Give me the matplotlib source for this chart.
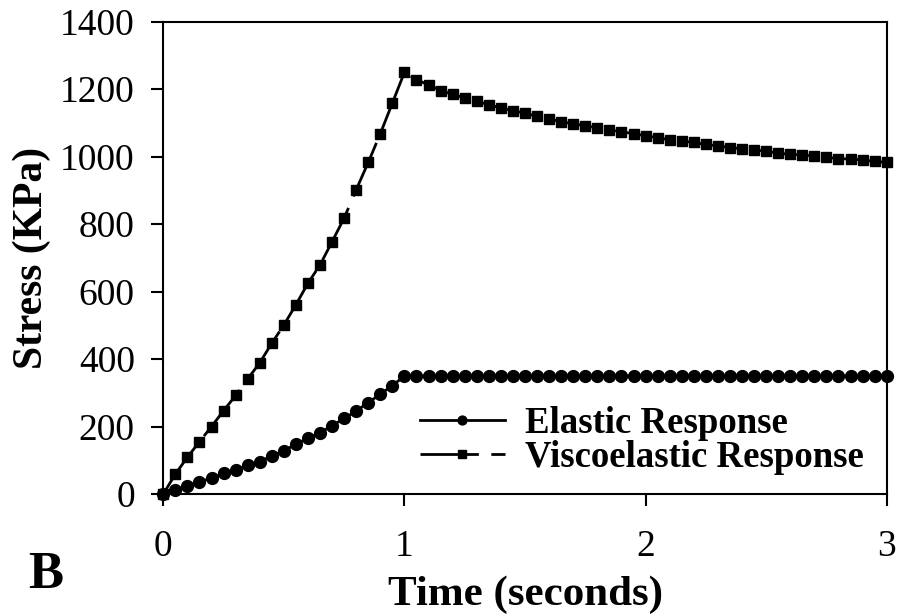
import numpy as np
import matplotlib
matplotlib.use('Agg')
import matplotlib.pyplot as plt

# time axis, sampled every 0.05 s
time = [round(0.05 * i, 2) for i in range(61)]

# elastic: rises to 350 at t=1 then stays flat
elastic = [0, 12, 24, 37, 46, 61, 71, 86, 96, 113, 128, 148, 165, 182, 202,
           224, 246, 271, 296, 321, 350] + [350] * 40

# viscoelastic: ramps to ~1250 at t=1 then relaxes
visco = [0, 59, 109, 155, 200, 247, 292, 341, 389, 447, 501, 561, 625, 679,
         748, 818, 902, 983, 1068, 1159, 1250,
         1228, 1213, 1196, 1185, 1174, 1164, 1154, 1144, 1136, 1129,
         1119, 1111, 1104, 1097, 1092, 1085, 1080, 1074, 1068, 1062,
         1056, 1050, 1046, 1042, 1036, 1032, 1027, 1023, 1020, 1016,
         1010, 1007, 1005, 1002, 998, 994, 993, 990, 986, 983]

plt.rcParams['font.family'] = ['Liberation Serif', 'DejaVu Serif']

fig = plt.figure(figsize=(8.98, 6.16), dpi=100)
ax = fig.add_axes([163.3 / 898, 1 - 494 / 616, (886.7 - 163.3) / 898, (494 - 21.7) / 616])

ax.plot(time, elastic, color='black', lw=2, marker='o', markersize=8.5,
        label='Elastic Response', clip_on=False, zorder=3)
ax.plot(time, visco, color='black', lw=2, marker='s', markersize=7.5,
        linestyle=(0, (21, 4.5)), label='Viscoelastic Response', clip_on=False, zorder=3)

ax.set_xlim(0, 3)
ax.set_ylim(0, 1400)
ax.set_xticks([0, 1, 2, 3])
ax.set_yticks(range(0, 1401, 200))
for s in ax.spines.values():
    s.set_linewidth(1.5)
ax.tick_params(axis='both', direction='out', length=8.5, width=1.5, labelsize=27)
ax.tick_params(axis='x', pad=17)
ax.tick_params(axis='y', pad=12)

ax.set_xlabel('Time (seconds)', fontsize=31, fontweight='bold', va='center')
ax.xaxis.set_label_coords(0.5, -101 / 472.3)
ax.set_ylabel('Stress (KPa)', fontsize=30, fontweight='bold', va='center')
ax.yaxis.set_label_coords(-131.3 / 723.4, 0.5)

leg = ax.legend(loc='center left', bbox_to_anchor=(420 / 898, 1 - 440.5 / 616),
                bbox_transform=fig.transFigure, frameon=False,
                markerscale=0.75, handlelength=2.3, handletextpad=0.55,
                prop={'weight': 'bold', 'size': 26.5},
                borderpad=0, borderaxespad=0, labelspacing=-0.02)

fig.text(46 / 898, 1 - 575 / 616, 'B', fontsize=38, fontweight='bold',
         ha='center', va='center')

fig.savefig('out.png', dpi=100)
